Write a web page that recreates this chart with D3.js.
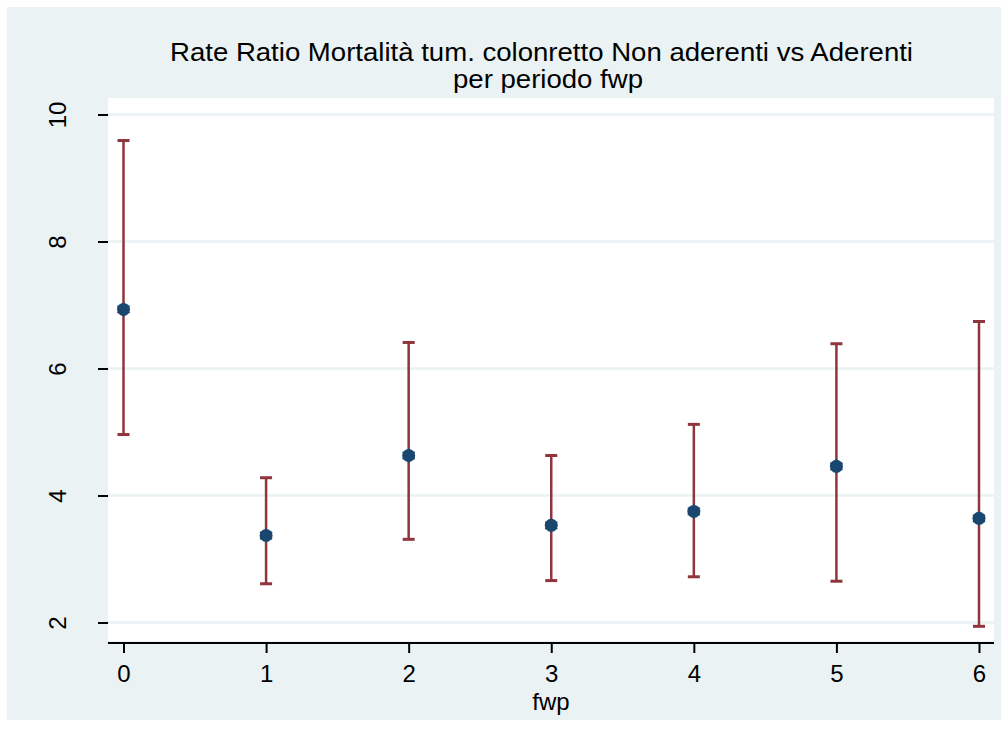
<!DOCTYPE html>
<html><head><meta charset="utf-8">
<script src="https://cdn.jsdelivr.net/npm/d3@7"></script>
<style>html,body{margin:0;padding:0;background:#fff;}svg{display:block;}</style>
</head><body>
<script>
const fwp = [0, 1, 2, 3, 4, 5, 6];
const rateRatio = [6.93, 3.37, 4.63, 3.53, 3.75, 4.46, 3.64];
const upperCI = [9.59, 4.28, 6.41, 4.63, 5.12, 6.39, 6.74];
const lowerCI = [4.96, 2.61, 3.31, 2.66, 2.72, 2.65, 1.94];
const yTicks = [2, 4, 6, 8, 10];
const xTicks = [0, 1, 2, 3, 4, 5, 6];
const titleLines = ["Rate Ratio Mortalità tum. colonretto Non aderenti vs Aderenti", "per periodo fwp"];
const xTitle = "fwp";

const W = 1008, H = 738;
const FONT = "'Liberation Sans', Arial, sans-serif";
const svg = d3.select("body").append("svg").attr("width", W).attr("height", H);
svg.append("rect").attr("x", 0).attr("y", 0).attr("width", W).attr("height", H).attr("fill", "#ffffff");
svg.append("rect").attr("x", 7).attr("y", 7).attr("width", W - 14).attr("height", H - 25).attr("fill", "#eaf2f3");

const plot = {left: 108, right: 994, top: 98, bottom: 641};
svg.append("rect").attr("x", plot.left).attr("y", plot.top).attr("width", plot.right - plot.left).attr("height", plot.bottom - plot.top).attr("fill", "#ffffff");

const x = d3.scaleLinear().domain([0, 6]).range([123.5, 979]);
const y = d3.scaleLinear().domain([2, 10]).range([622.5, 114.5]);

// grid
svg.append("g").selectAll("line").data(yTicks).join("line")
  .attr("x1", plot.left).attr("x2", plot.right)
  .attr("y1", d => y(d)).attr("y2", d => y(d))
  .attr("stroke", "#eaf2f3").attr("stroke-width", 2.5);

// y axis ticks (no domain line)
const yAxis = svg.append("g").attr("transform", `translate(${plot.left},0)`)
  .call(d3.axisLeft(y).tickValues(yTicks).tickSize(10).tickPadding(0).tickFormat(d3.format("d")));
yAxis.select(".domain").remove();
yAxis.selectAll(".tick line").attr("stroke", "#000").attr("stroke-width", 2);
yAxis.selectAll(".tick text").remove();
yAxis.selectAll(".tick").append("text")
  .attr("transform", `translate(${66 - plot.left},0) rotate(-90)`)
  .attr("text-anchor", "middle")
  .attr("fill", "#000").style("font-family", FONT).style("font-size", "24px")
  .text(d => d);

// x axis
const xAxis = svg.append("g").attr("transform", `translate(0,${643})`)
  .call(d3.axisBottom(x).tickValues(xTicks).tickSize(10).tickPadding(0).tickFormat(d3.format("d")));
xAxis.select(".domain").attr("d", `M${plot.left},0H${plot.right}`).attr("stroke", "#000").attr("stroke-width", 2);
xAxis.selectAll(".tick line").attr("stroke", "#000").attr("stroke-width", 2);
xAxis.selectAll(".tick text").attr("y", 39).attr("dy", null)
  .attr("fill", "#000").style("font-family", FONT).style("font-size", "24px");

svg.append("text").attr("x", (plot.left + plot.right) / 2).attr("y", 710)
  .attr("text-anchor", "middle").style("font-family", FONT).style("font-size", "24px")
  .text(xTitle);

// title
const title = svg.append("g");
title.append("text").attr("x", 541.5).attr("y", 61).attr("text-anchor", "middle")
  .attr("textLength", 743).attr("lengthAdjust", "spacingAndGlyphs")
  .style("font-family", FONT).style("font-size", "25px")
  .text(titleLines[0]);
title.append("text").attr("x", 548).attr("y", 88).attr("text-anchor", "middle")
  .attr("textLength", 190).attr("lengthAdjust", "spacingAndGlyphs")
  .style("font-family", FONT).style("font-size", "25px")
  .text(titleLines[1]);

// error bars
const data = fwp.map((f, i) => ({f, v: rateRatio[i], lo: lowerCI[i], hi: upperCI[i]}));
const eb = svg.append("g").attr("stroke", "#90353b");
eb.selectAll("line.v").data(data).join("line").attr("class", "v")
  .attr("x1", d => x(d.f)).attr("x2", d => x(d.f))
  .attr("y1", d => y(d.lo)).attr("y2", d => y(d.hi)).attr("stroke-width", 2.5);
eb.selectAll("line.hi").data(data).join("line").attr("class", "hi")
  .attr("x1", d => x(d.f) - 6).attr("x2", d => x(d.f) + 6)
  .attr("y1", d => y(d.hi)).attr("y2", d => y(d.hi)).attr("stroke-width", 3);
eb.selectAll("line.lo").data(data).join("line").attr("class", "lo")
  .attr("x1", d => x(d.f) - 6).attr("x2", d => x(d.f) + 6)
  .attr("y1", d => y(d.lo)).attr("y2", d => y(d.lo)).attr("stroke-width", 3);

// markers
const mk = svg.append("g");
mk.selectAll("circle").data(data).join("circle")
  .attr("cx", d => x(d.f)).attr("cy", d => y(d.v)).attr("r", 6.5)
  .attr("fill", "#1a476f");
mk.selectAll("path").data(data).join("path")
  .attr("transform", d => `translate(${x(d.f)},${y(d.v)})`)
  .attr("d", d3.symbol().type(d3.symbolAsterisk).size(140)())
  .attr("stroke", "#1a476f").attr("stroke-width", 1.5).attr("fill", "none");
</script>
</body></html>
